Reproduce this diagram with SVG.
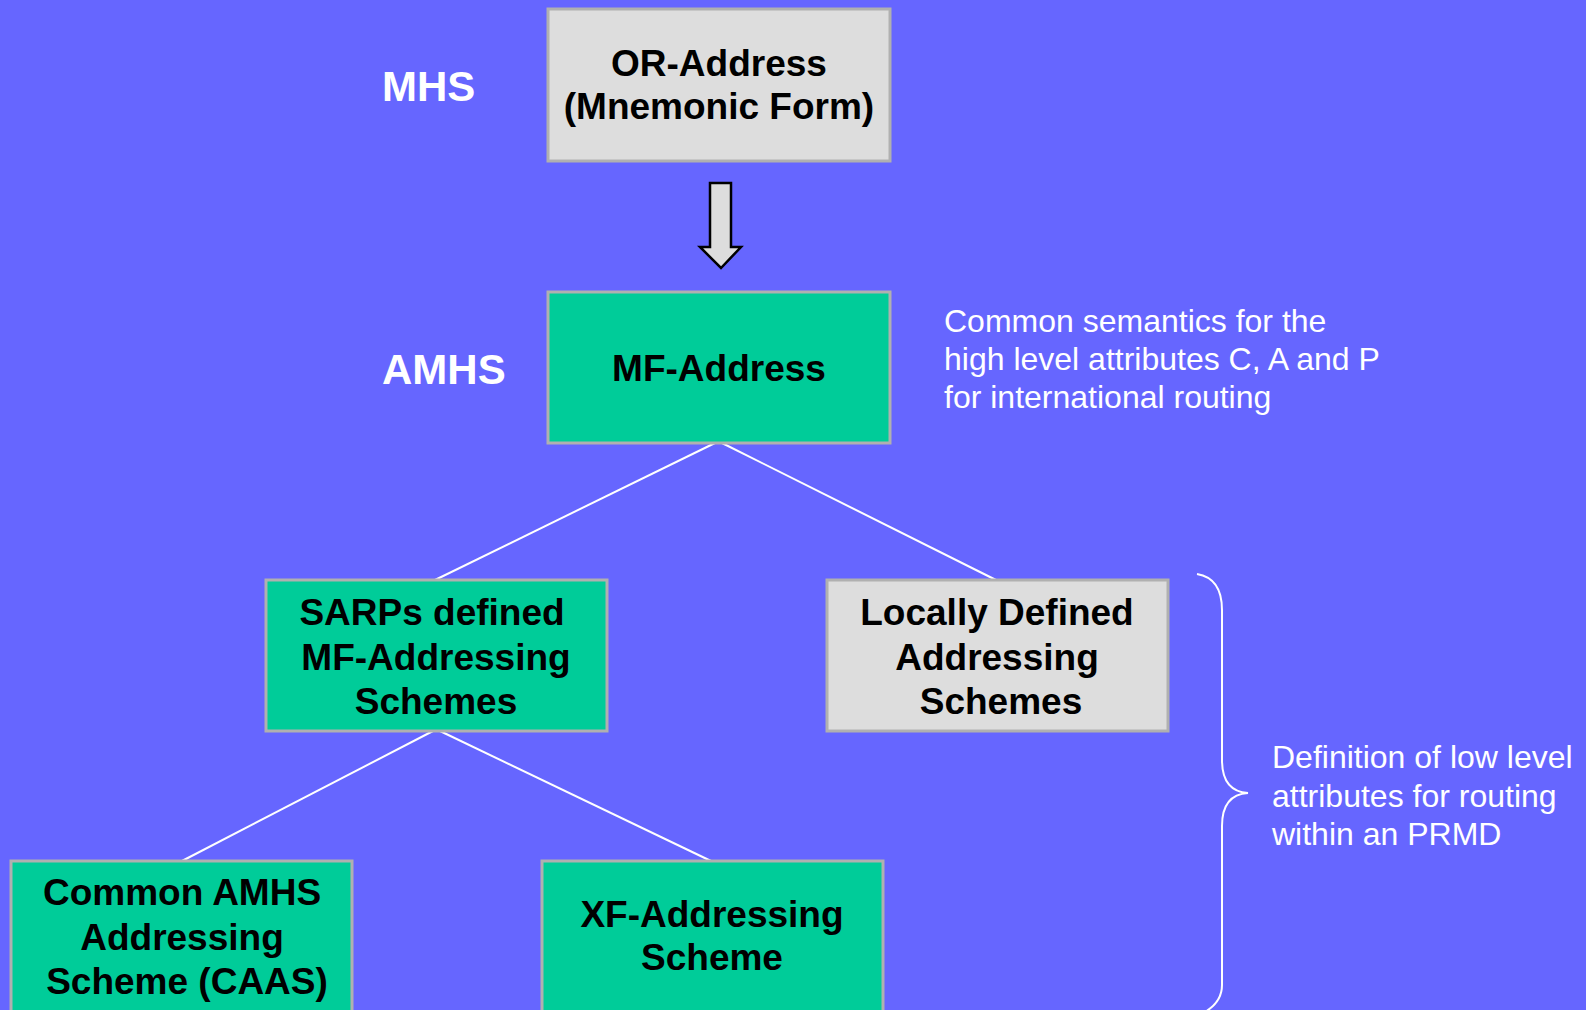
<svg xmlns="http://www.w3.org/2000/svg" width="1586" height="1010" viewBox="0 0 1586 1010">
<style>
.bg{fill:#6666FF}
.g{fill:#00CC99;stroke:#B0B0B0;stroke-width:3}
.w{fill:#DDDDDD;stroke:#B0B0B0;stroke-width:3}
.bt{font-family:"Liberation Sans",Arial,sans-serif;font-weight:bold;font-size:37px;fill:#000;text-anchor:middle}
.lb{font-family:"Liberation Sans",Arial,sans-serif;font-weight:bold;font-size:42px;fill:#fff}
.nt{font-family:"Liberation Sans",Arial,sans-serif;font-size:32px;fill:#fff}
.cn{stroke:#fff;stroke-width:2;fill:none}
</style>
<rect class="bg" x="0" y="0" width="1586" height="1010"/>
<g id="labels">
<text class="lb" x="382" y="101">MHS</text>
<text class="lb" x="382" y="384">AMHS</text>
</g>
<g id="connectors">
<path class="cn" d="M715,443 L435,580"/>
<path class="cn" d="M722,443 L996,580"/>
<path class="cn" d="M433,731 L182,861"/>
<path class="cn" d="M440,731 L711,861"/>
<path id="arrow" d="M710,183 L731,183 L731,247 L741,247 L721,268 L700,247 L710,247 Z" fill="#DDDDDD" stroke="#000" stroke-width="2.5"/>
<path id="brace" class="cn" d="M1197,574 C1215,577 1222,590 1222,610 L1222,760 C1222,782 1232,792 1248,793 C1232,794 1222,804 1222,826 L1222,985 C1222,998 1215,1006 1205,1012"/>
</g>
<g id="or-address">
<rect class="w" x="548" y="9" width="342" height="152"/>
<text class="bt" x="719" y="76">OR-Address</text>
<text class="bt" x="719" y="119">(Mnemonic Form)</text>
</g>
<g id="mf-address">
<rect class="g" x="548" y="292" width="342" height="151"/>
<text class="bt" x="719" y="381">MF-Address</text>
</g>
<g id="note-high">
<text class="nt" x="944" y="332">Common semantics for the</text>
<text class="nt" x="944" y="370">high level attributes C, A and P</text>
<text class="nt" x="944" y="408">for international routing</text>
</g>
<g id="sarps">
<rect class="g" x="266" y="580" width="341" height="151"/>
<text class="bt" x="432" y="625">SARPs defined</text>
<text class="bt" x="436" y="670">MF-Addressing</text>
<text class="bt" x="436" y="714">Schemes</text>
</g>
<g id="locally">
<rect class="w" x="827" y="580" width="341" height="151"/>
<text class="bt" x="997" y="625">Locally Defined</text>
<text class="bt" x="997" y="670">Addressing</text>
<text class="bt" x="1001" y="714">Schemes</text>
</g>
<g id="note-low">
<text class="nt" x="1272" y="768">Definition of low level</text>
<text class="nt" x="1272" y="807">attributes for routing</text>
<text class="nt" x="1272" y="845">within an PRMD</text>
</g>
<g id="caas">
<rect class="g" x="11" y="861" width="341" height="160"/>
<text class="bt" x="182" y="905">Common AMHS</text>
<text class="bt" x="182" y="950">Addressing</text>
<text class="bt" x="187" y="994">Scheme (CAAS)</text>
</g>
<g id="xf">
<rect class="g" x="542" y="861" width="341" height="160"/>
<text class="bt" x="712" y="927">XF-Addressing</text>
<text class="bt" x="712" y="970">Scheme</text>
</g>
</svg>
